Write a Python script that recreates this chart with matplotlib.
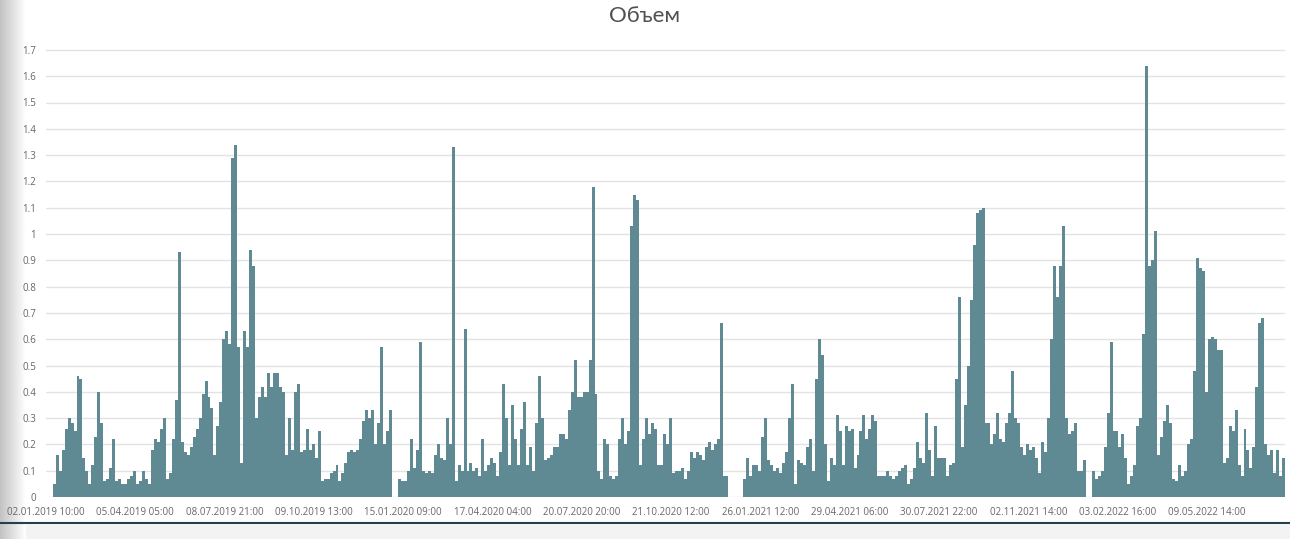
import numpy as np
import matplotlib.pyplot as plt
from matplotlib.ticker import FixedLocator, FuncFormatter


title = 'Объем'

tick_labels = ['02.01.2019 10:00', '05.04.2019 05:00', '08.07.2019 21:00',
               '09.10.2019 13:00', '15.01.2020 09:00', '17.04.2020 04:00',
               '20.07.2020 20:00', '21.10.2020 12:00', '26.01.2021 12:00',
               '29.04.2021 06:00', '30.07.2021 22:00', '02.11.2021 14:00',
               '03.02.2022 16:00', '09.05.2022 14:00']
points_per_label = 30

# volume readings, split where the source has no data
volume_2019 = [0.05, 0.16, 0.10, 0.18, 0.26, 0.30, 0.28, 0.25, 0.46, 0.45,
               0.15, 0.10, 0.05, 0.12, 0.23, 0.40, 0.28, 0.06, 0.07, 0.11,
               0.22, 0.06, 0.07, 0.05, 0.05, 0.07, 0.08, 0.10, 0.05, 0.06,
               0.10, 0.07, 0.05, 0.18, 0.22, 0.21, 0.26, 0.30, 0.07, 0.09,
               0.22, 0.37, 0.93, 0.21, 0.17, 0.16, 0.19, 0.23, 0.26, 0.30,
               0.39, 0.44, 0.38, 0.34, 0.16, 0.27, 0.36, 0.60, 0.63, 0.58,
               1.29, 1.34, 0.57, 0.13, 0.63, 0.57, 0.94, 0.88, 0.30, 0.38,
               0.42, 0.38, 0.47, 0.42, 0.47, 0.47, 0.42, 0.40, 0.16, 0.30,
               0.18, 0.40, 0.43, 0.17, 0.18, 0.26, 0.18, 0.20, 0.15, 0.25,
               0.06, 0.07, 0.07, 0.09, 0.10, 0.12, 0.06, 0.09, 0.13, 0.17,
               0.18, 0.17, 0.18, 0.22, 0.29, 0.33, 0.30, 0.33, 0.20, 0.28,
               0.57, 0.20, 0.25, 0.33]
gap_1 = 2
volume_2020 = [0.07, 0.06, 0.06, 0.10,
               0.22, 0.11, 0.18, 0.59, 0.10, 0.09, 0.10, 0.09, 0.16, 0.20,
               0.15, 0.14, 0.30, 0.20, 1.33, 0.06, 0.12, 0.10, 0.64, 0.10,
               0.13, 0.10, 0.11, 0.08, 0.22, 0.10, 0.12, 0.15, 0.13, 0.08,
               0.17, 0.43, 0.30, 0.12, 0.35, 0.22, 0.12, 0.26, 0.36, 0.12,
               0.19, 0.10, 0.28, 0.46, 0.30, 0.14, 0.15, 0.16, 0.19, 0.19,
               0.24, 0.24, 0.22, 0.33, 0.40, 0.52, 0.38, 0.38, 0.40, 0.40,
               0.52, 1.18, 0.39, 0.10, 0.07, 0.22, 0.20, 0.08, 0.07, 0.08,
               0.22, 0.30, 0.20, 0.25, 1.03, 1.15, 1.13, 0.12, 0.22, 0.30,
               0.24, 0.28, 0.26, 0.12, 0.12, 0.24, 0.20, 0.30, 0.09, 0.10,
               0.10, 0.11, 0.07, 0.10, 0.17, 0.15, 0.17, 0.16, 0.14, 0.19,
               0.21, 0.18, 0.20, 0.22, 0.66, 0.08, 0.08]
gap_2 = 5
volume_2021 = [0.07, 0.15, 0.08, 0.12, 0.12, 0.10, 0.23, 0.30,
               0.14, 0.12, 0.10, 0.11, 0.09, 0.13, 0.17, 0.30, 0.43, 0.05,
               0.14, 0.13, 0.12, 0.19, 0.22, 0.10, 0.45, 0.60, 0.54, 0.20,
               0.06, 0.15, 0.12, 0.31, 0.25, 0.12, 0.27, 0.25, 0.26, 0.11,
               0.16, 0.25, 0.31, 0.22, 0.26, 0.31, 0.29, 0.08, 0.08, 0.08,
               0.10, 0.08, 0.07, 0.08, 0.10, 0.11, 0.12, 0.05, 0.07, 0.11,
               0.21, 0.15, 0.13, 0.32, 0.18, 0.08, 0.27, 0.15, 0.15, 0.15,
               0.08, 0.12, 0.13, 0.45, 0.76, 0.19, 0.35, 0.50, 0.75, 0.96,
               1.08, 1.09, 1.10, 0.28, 0.28, 0.20, 0.24, 0.32, 0.22, 0.21,
               0.28, 0.32, 0.48, 0.30, 0.28, 0.19, 0.16, 0.20, 0.18, 0.19,
               0.15, 0.09, 0.21, 0.17, 0.30, 0.60, 0.88, 0.76, 0.88, 1.03,
               0.30, 0.24, 0.25, 0.28, 0.10, 0.10, 0.14]
gap_3 = 2
volume_2022 = [0.10,
               0.07, 0.08, 0.10, 0.19, 0.32, 0.59, 0.25, 0.25, 0.19, 0.24,
               0.15, 0.05, 0.08, 0.12, 0.27, 0.30, 0.62, 1.64, 0.88, 0.90,
               1.01, 0.16, 0.23, 0.29, 0.35, 0.28, 0.07, 0.06, 0.12, 0.08,
               0.10, 0.20, 0.22, 0.48, 0.91, 0.87, 0.86, 0.40, 0.60, 0.61,
               0.60, 0.56, 0.56, 0.13, 0.15, 0.27, 0.25, 0.33, 0.12, 0.08,
               0.26, 0.18, 0.11, 0.19, 0.42, 0.66, 0.68, 0.20, 0.16, 0.18,
               0.09, 0.18, 0.08, 0.15]

volume = np.concatenate([volume_2019, [np.nan] * gap_1,
                         volume_2020, [np.nan] * gap_2,
                         volume_2021, [np.nan] * gap_3,
                         volume_2022])
x = np.arange(len(volume))

bar_color = '#5f8a93'
text_color = '#666666'
plt.rcParams['font.family'] = ['Open Sans', 'DejaVu Sans']

fig = plt.figure(figsize=(12.9, 5.39), dpi=100)

# grey shadow on the left edge of the page
shade = fig.add_axes([0, 0, 26 / 1290, 1], zorder=-5)
shade.imshow(np.linspace(0.76, 1.0, 64)[None, :], cmap='gray', vmin=0, vmax=1,
             aspect='auto', extent=(0, 1, 0, 1))
shade.axis('off')

ax = fig.add_axes([45.7 / 1290, 1 - 497 / 539, 1239.5 / 1290, (1.75 * 263) / 539])
ax.bar(x, volume, width=1.0, color=bar_color, linewidth=0,
       antialiased=False, zorder=3)

ax.set_xlim(-2.85, len(volume) - 0.5)
ax.set_ylim(0, 1.75)
ax.yaxis.set_major_locator(FixedLocator(np.round(np.arange(0, 1.71, 0.1), 1)))
ax.yaxis.set_major_formatter(FuncFormatter(lambda v, p: f'{v:g}'))
ax.grid(axis='y', color='#e3e3e3', linewidth=1.0, zorder=0)
ax.set_axisbelow(True)

tick_pos = np.arange(len(tick_labels)) * points_per_label - 2.75
ax.set_xticks(tick_pos)
ax.set_xticklabels(tick_labels)
ax.tick_params(axis='both', length=0, labelsize=7, colors=text_color)
ax.tick_params(axis='x', pad=7)
ax.tick_params(axis='y', pad=7)
for s in ax.spines.values():
    s.set_visible(False)

fig.text(0.5, 1 - 16 / 539, title, ha='center', va='center', fontsize=16,
         color='#505050', family=['Lato', 'DejaVu Sans'], fontweight='normal')

# dark strip under the axis labels
fig.add_artist(plt.Line2D([0, 1], [1 - 523 / 539, 1 - 523 / 539],
                          color='#24404f', linewidth=1.5, zorder=5))
fig.patches.append(plt.Rectangle((0, 0), 1, 1 - 525 / 539, transform=fig.transFigure,
                                 color='#f3f3f3', zorder=-6))

fig.savefig('out.png', dpi=100)
